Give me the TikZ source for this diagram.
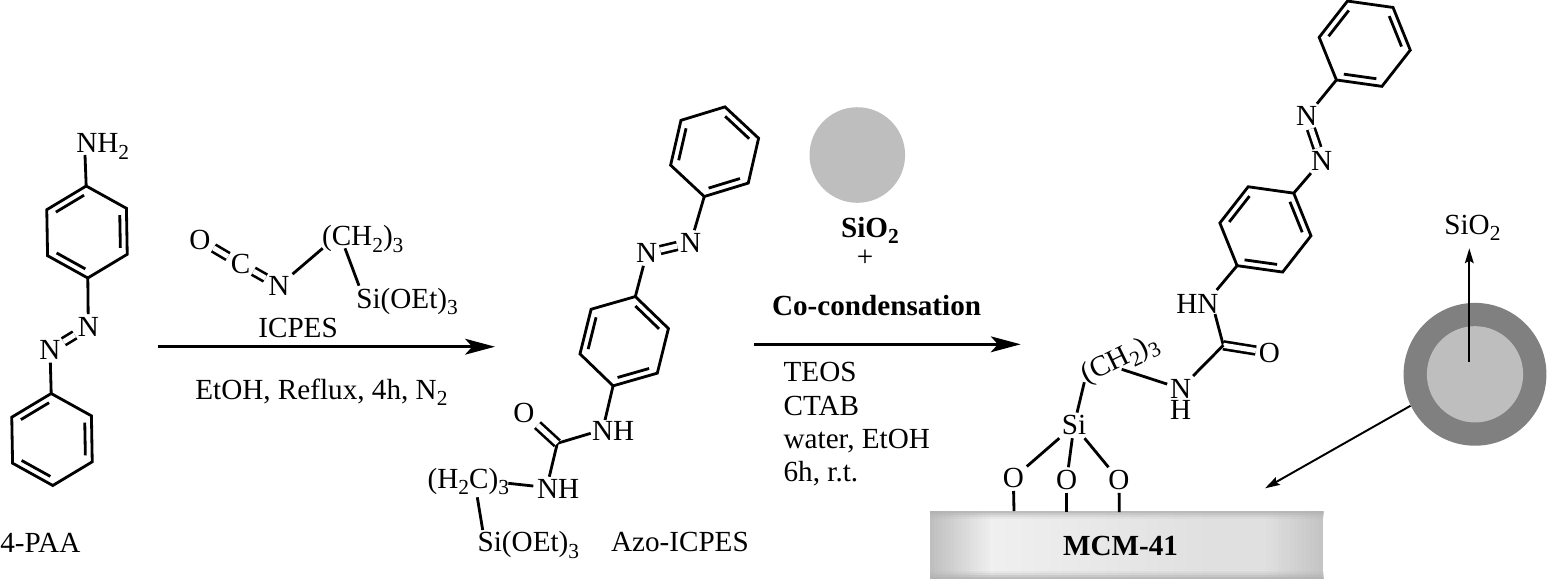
\documentclass[tikz,border=0pt]{standalone}
\usepackage{fontspec}
\setmainfont{Liberation Serif}
\usetikzlibrary{calc,arrows.meta}

\definecolor{coregray}{HTML}{BEBEBE}
\definecolor{shellgray}{HTML}{808080}
\definecolor{platerim}{HTML}{B0B0B0}

\newcommand{\dn}[1]{\raisebox{-0.22em}{\fontsize{12.2}{12.2}\selectfont #1}}

\tikzset{
  bond/.style={line width=1.6pt},
  dblbond/.style={line width=1.5pt,double,double distance=2.9pt},
  atom/.style={inner sep=1.5pt,font=\fontsize{16.6}{20}\selectfont},
  txt/.style={inner sep=0pt,anchor=base west,font=\fontsize{16.6}{20}\selectfont},
  bigarrow/.style={line width=1.6pt,-{Stealth[length=17pt,width=9pt,inset=4pt]}},
  thinarrow/.style={line width=1.1pt,-{Stealth[length=8.5pt,width=5pt,inset=1.5pt]}}
}

\newcommand{\benzene}[3]{
  \coordinate (#1) at (#2);
  \foreach \k in {0,...,5} {\coordinate (#1\k) at ($(#1)+(#3+60*\k:46)$);}
  \draw[bond,line join=miter] (#10) -- (#11) -- (#12) -- (#13) -- (#14) -- (#15) -- cycle;
  \foreach \p/\q in {0/1,2/3,4/5} {\draw[bond] ($(#1\p)!0.07!(#1\q)!0.17!(#1)$) -- ($(#1\q)!0.07!(#1\p)!0.17!(#1)$);}
}

\begin{document}
\begin{tikzpicture}[x=0.02cm,y=-0.02cm]
\useasboundingbox (0,0) rectangle (1547,579);

\benzene{ra}{87,232}{-151}
\benzene{rb}{52,439.5}{-151}
\node[txt] (nhtwo) at (76,152.7) {NH\dn{2}}; \coordinate (nhtwob) at (85,155);
\node[atom] (paan) at (88.3,326.7) {N}; \node[atom] (paam) at (50,350) {N};
\draw[bond] (nhtwob) -- (ra1); \draw[bond] (ra4) -- (paan); \draw[bond] (paam) -- (rb1);
\draw[dblbond] (paan) -- (paam);
\node[txt] (paa) at (0,552.7) {4-PAA};

\node[atom] (isoo) at (200,240) {O}; \node[atom] (isoc) at (240.7,264) {C}; \node[atom] (ison) at (279,285.7) {N};
\node[txt] (isoch) at (321.7,245.7) {(CH\dn{2})\dn{3}}; \node[txt] (isosi) at (356,308.3) {Si(OEt)\dn{3}};
\coordinate (isocha) at (322.7,248.3); \coordinate (isochb) at (345,248.3); \coordinate (isosia) at (359,285.7);
\draw[dblbond] (isoo) -- (isoc); \draw[dblbond] (isoc) -- (ison);
\draw[bond] (ison) -- (isocha); \draw[bond] (isochb) -- (isosia);
\node[txt] (icpes) at (258,337.3) {ICPES};
\coordinate (arra) at (157.7,346.7); \coordinate (arrb) at (495,346.7);
\draw[bigarrow] (arra) -- (arrb);
\node[txt] (condone) at (195,399.3) {EtOH, Reflux, 4h, N\dn{2}};

\benzene{rc}{714.6,151.7}{-77}
\benzene{rd}{624.2,341.2}{-76}
\node[atom] (azon) at (690.7,242.7) {N}; \node[atom] (azom) at (646.7,253.3) {N};
\draw[bond] (rc3) -- (azon); \draw[bond] (azom) -- (rd0); \draw[dblbond] (azon) -- (azom);
\node[txt] (ureaa) at (591.7,440.7) {NH}; \node[txt] (ureab) at (536.7,498.3) {NH};
\node[atom] (ureao) at (524,412.7) {O}; \coordinate (ureac) at (557.3,443.3);
\coordinate (ureaat) at (605,420); \coordinate (ureaal) at (590.7,433.3); \coordinate (ureabt) at (549.3,476.7); \coordinate (ureabl) at (533.3,486);
\draw[bond] (rd3) -- (ureaat); \draw[bond] (ureac) -- (ureaal); \draw[bond] (ureac) -- (ureabt);
\draw[dblbond] (ureao) -- (ureac);
\node[txt] (propyl) at (427.3,488.3) {(H\dn{2}C)\dn{3}}; \node[txt] (azosi) at (477.3,551.7) {Si(OEt)\dn{3}};
\coordinate (propr) at (508.3,483.3); \coordinate (propb) at (477.3,497.3); \coordinate (azosit) at (482.7,530);
\draw[bond] (propr) -- (ureabl); \draw[bond] (propb) -- (azosit);
\node[txt] (azoname) at (610.7,551.7) {Azo-ICPES};

\node[circle,fill=coregray,minimum size=54.4pt,inner sep=0pt] (silica) at (857.3,155) {};
\node[txt] (silicalab) at (840.7,237.3) {\textbf{SiO\dn{2}}};
\node[atom] (plus) at (865,258.3) {+};
\node[txt] (cocond) at (771.7,315) {\textbf{Co-condensation}};
\coordinate (arrc) at (754,344.3); \coordinate (arrd) at (1020.7,344.3);
\draw[bigarrow] (arrc) -- (arrd);
\foreach \cond/\ypos/\nm in {TEOS/381/a,CTAB/415/b,{water, EtOH}/448.3/c,{6h, r.t.}/481.7/d} {\node[txt] (cond\nm) at (783.3,\ypos) {\cond};}

\benzene{re}{1364.7,43.7}{-52}
\benzene{rf}{1265.4,229.4}{-52}
\node[atom] (grafn) at (1306.7,116.3) {N}; \node[atom] (grafm) at (1321.7,160.6) {N};
\draw[bond] (re3) -- (grafn); \draw[bond] (grafm) -- (rf0); \draw[dblbond] (grafn) -- (grafm);
\node[txt] (grafhn) at (1176,313.2) {HN};
\coordinate (grafhnt) at (1216.7,290); \coordinate (grafhnb) at (1215,314); \coordinate (grafc) at (1223.3,345.3);
\node[atom] (grafo) at (1269.3,352.7) {O}; \node[atom] (grafnh) at (1180.7,388.5) {N}; \node[atom] (grafh) at (1180.7,410) {H};
\draw[bond] (rf3) -- (grafhnt); \draw[bond] (grafhnb) -- (grafc); \draw[dblbond] (grafc) -- (grafo); \draw[bond] (grafc) -- (grafnh);
\node[atom,inner sep=0pt,rotate=26] (grafch) at (1120,360) {(CH\dn{2})\dn{3}};
\coordinate (grafchr) at (1121.7,369.3); \coordinate (grafchl) at (1084.3,382.2);
\draw[bond] (grafchr) -- (grafnh);
\node[atom] (si) at (1074,425.4) {Si};
\draw[bond] (si) -- (grafchl);
\node[atom] (ol) at (1013.3,478.2) {O}; \node[atom] (om) at (1066.7,480) {O}; \node[atom] (or) at (1119,480) {O};
\draw[bond] (si) -- (ol); \draw[bond] (si) -- (om); \draw[bond] (si) -- (or);

\foreach \xa in {930,934,...,1320} {
  \pgfmathsetmacro{\g}{\xa<990 ? 25-19*(\xa-930)/60 : (\xa<1200 ? 6+6*(\xa-990)/210 : (\xa<1262 ? 12 : 12+12*(\xa-1262)/62))}
  \fill[black!\g] (\xa,511) rectangle ({min(\xa+5,1324.3)},579);
}
\foreach \ya/\op in {511/.8,513/.55,515/.3,517/.12,571/.12,573/.3,575/.55,577/.8} {\fill[platerim,opacity=\op] (930,\ya) rectangle (1324.3,\ya+2);}
\coordinate (pl) at (1014,511); \coordinate (pm) at (1066.7,512); \coordinate (pr) at (1119.3,512);
\draw[bond] (ol) -- (pl); \draw[bond] (om) -- (pm); \draw[bond] (or) -- (pr);
\node[txt] (mcm) at (1062.7,555.8) {\textbf{MCM-41}};

\node[circle,fill=shellgray,minimum size=81.3pt,inner sep=0pt] (shell) at (1475,374.3) {};
\node[circle,fill=coregray,minimum size=54.8pt,inner sep=0pt] (core) at (1475,374.3) {};
\coordinate (corea) at (1469.3,361.7); \coordinate (coreb) at (1469.3,248.3); \coordinate (platept) at (1265,488.3);
\draw[thinarrow] (corea) -- (coreb);
\draw[thinarrow] (shell.206) -- (platept);
\node[txt] (shelllab) at (1444,234.3) {SiO\dn{2}};

\end{tikzpicture}
\end{document}
